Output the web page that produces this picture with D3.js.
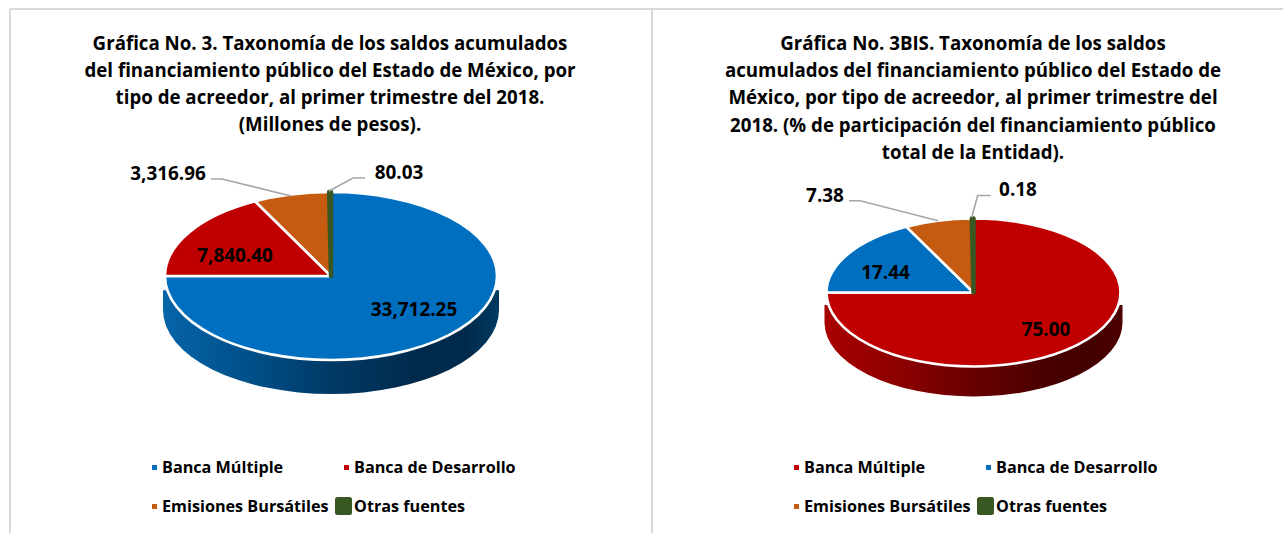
<!DOCTYPE html>
<html><head><meta charset="utf-8">
<script src="https://cdn.jsdelivr.net/npm/d3@7"></script>
<style>html,body{margin:0;background:#fff;overflow:hidden}svg{display:block}text{font-family:"Open Sans",sans-serif;font-weight:700;fill:#000}</style>
</head><body><svg id="c" width="1283" height="533"></svg>
<script>
const seriesNames = ["Banca Múltiple","Banca de Desarrollo","Emisiones Bursátiles","Otras fuentes"];
const valuesMillions = [33712.25,7840.40,3316.96,80.03];
const labelsMillions = ["33,712.25","7,840.40","3,316.96","80.03"];
const valuesPercent = [75.00,17.44,7.38,0.18];
const labelsPercent = ["75.00","17.44","7.38","0.18"];
const coloursLeft = ["#006fc0","#c00000","#c55a11","#385723"];
const coloursRight = ["#c00000","#006fc0","#c55a11","#385723"];
const titleLeft = ["Gráfica No. 3. Taxonomía de los saldos acumulados","del financiamiento público del Estado de México, por","tipo de acreedor, al primer trimestre del 2018.","(Millones de pesos)."];
const titleRight = ["Gráfica No. 3BIS. Taxonomía de los saldos","acumulados del financiamiento público del Estado de","México, por tipo de acreedor, al primer trimestre del","2018. (% de participación del financiamiento público","total de la Entidad)."];

const svg = d3.select("#c");
const defs = svg.append("defs");
const frame = "#d9d9d9";
[[10,9,1283,9],[10,9,10,533],[652,9,652,533]].forEach(l=>svg.append("line").attr("x1",l[0]).attr("y1",l[1]).attr("x2",l[2]).attr("y2",l[3]).attr("stroke",frame).attr("stroke-width",2));

function chart(o){
  const g = svg.append("g");
  g.selectAll(".t").data(o.title).join("text").attr("text-anchor","middle").attr("font-size",18.7)
    .attr("x",o.titleX).attr("y",(d,i)=>o.titleY+i*o.titleStep).text(d=>d);

  const grad = defs.append("linearGradient").attr("id",o.id).attr("x1",0).attr("x2",1).attr("y1",0).attr("y2",0);
  o.wall.forEach((c,i)=>grad.append("stop").attr("offset",o.wallStops[i]).attr("stop-color",c));
  const wx = o.rx+2, k = o.depth*0.42;
  g.append("path").attr("fill",`url(#${o.id})`)
    .attr("d",`M${o.cx-wx},${o.cy+k}L${o.cx-wx},${o.cy+o.depth}A${wx},${o.ry} 0 0 0 ${o.cx+wx},${o.cy+o.depth}L${o.cx+wx},${o.cy+k}Z`);

  const pie = d3.pie().sort(null).value(d=>d)(o.values);
  const arc = d3.arc().innerRadius(0).outerRadius(o.rx);
  const face = g.append("g").attr("transform",`translate(${o.cx},${o.cy}) scale(1,${o.ry/o.rx})`);
  face.selectAll("path").data(pie).join("path").attr("d",arc)
    .attr("fill",(d,i)=>o.colours[i])
    .attr("stroke",(d,i)=>i===3?o.colours[3]:"#fff")
    .attr("stroke-width",(d,i)=>i===3?4.5:2.6)
    .attr("stroke-linejoin","round")
    .attr("vector-effect","non-scaling-stroke");

  const pt = (d,i)=>{const a=(d.startAngle+d.endAngle)/2;return [o.cx+o.rx*Math.sin(a)+o.leader[i].nudge[0],o.cy-o.ry*Math.cos(a)+o.leader[i].nudge[1]];};
  [2,3].forEach(i=>{
    const p=pt(pie[i],i), L=o.leader[i];
    g.append("path").attr("fill","none").attr("stroke","#a6a6a6").attr("stroke-width",1.6)
      .attr("d",d3.line()([p,[p[0]+L.elbow[0],p[1]+L.elbow[1]],[p[0]+L.end[0],p[1]+L.elbow[1]]]));
  });
  o.labels.forEach((t,i)=>g.append("text").attr("text-anchor","middle").attr("font-size",18.9)
    .attr("x",o.labelPos[i][0]).attr("y",o.labelPos[i][1]+6.5).text(t));

  const lg=g.append("g");
  seriesNames.forEach((n,i)=>{
    const x=o.lx[i%2], y=[467,506][i>>1];
    if(i<3) lg.append("rect").attr("x",x-10).attr("y",y-2).attr("width",5).attr("height",5).attr("fill",o.colours[i]);
    else lg.append("rect").attr("x",x-19).attr("y",y-9).attr("width",17).attr("height",18).attr("rx",2.5).attr("fill",o.colours[i]);
    lg.append("text").attr("x",x).attr("y",y+6).attr("font-size",16.2).text(n);
  });
}
chart({id:"wL",title:titleLeft,titleX:330,titleY:50,titleStep:27,cx:331,cy:276,rx:166,ry:84,depth:34,
  values:valuesMillions,labels:labelsMillions,colours:coloursLeft,
  wall:["#0664a8","#00508a","#003a66","#002a4c","#002a4c","#003a60"],wallStops:[0,.25,.5,.75,.9,1],
  labelPos:[[414,309],[235,255],[168,173],[399,172]],
  leader:[null,null,{nudge:[0,1.5],elbow:[-69,-17],end:[-80]},{nudge:[-1,-1],elbow:[24,-13],end:[36]}],
  lx:[162,354]});
chart({id:"wR",title:titleRight,titleX:973,titleY:50,titleStep:27.2,cx:973.5,cy:292.5,rx:147,ry:74,depth:30,
  values:valuesPercent,labels:labelsPercent,colours:coloursRight,
  wall:["#a80000","#8c0000","#680000","#480000","#440000","#4c0000"],wallStops:[0,.25,.5,.75,.9,1],
  labelPos:[[1046,329],[885.5,272],[825,195],[1018,189]],
  leader:[null,null,{nudge:[0,0],elbow:[-78,-20],end:[-89]},{nudge:[-1,-1],elbow:[6,-22],end:[19]}],
  lx:[804,996]});
</script></body></html>
